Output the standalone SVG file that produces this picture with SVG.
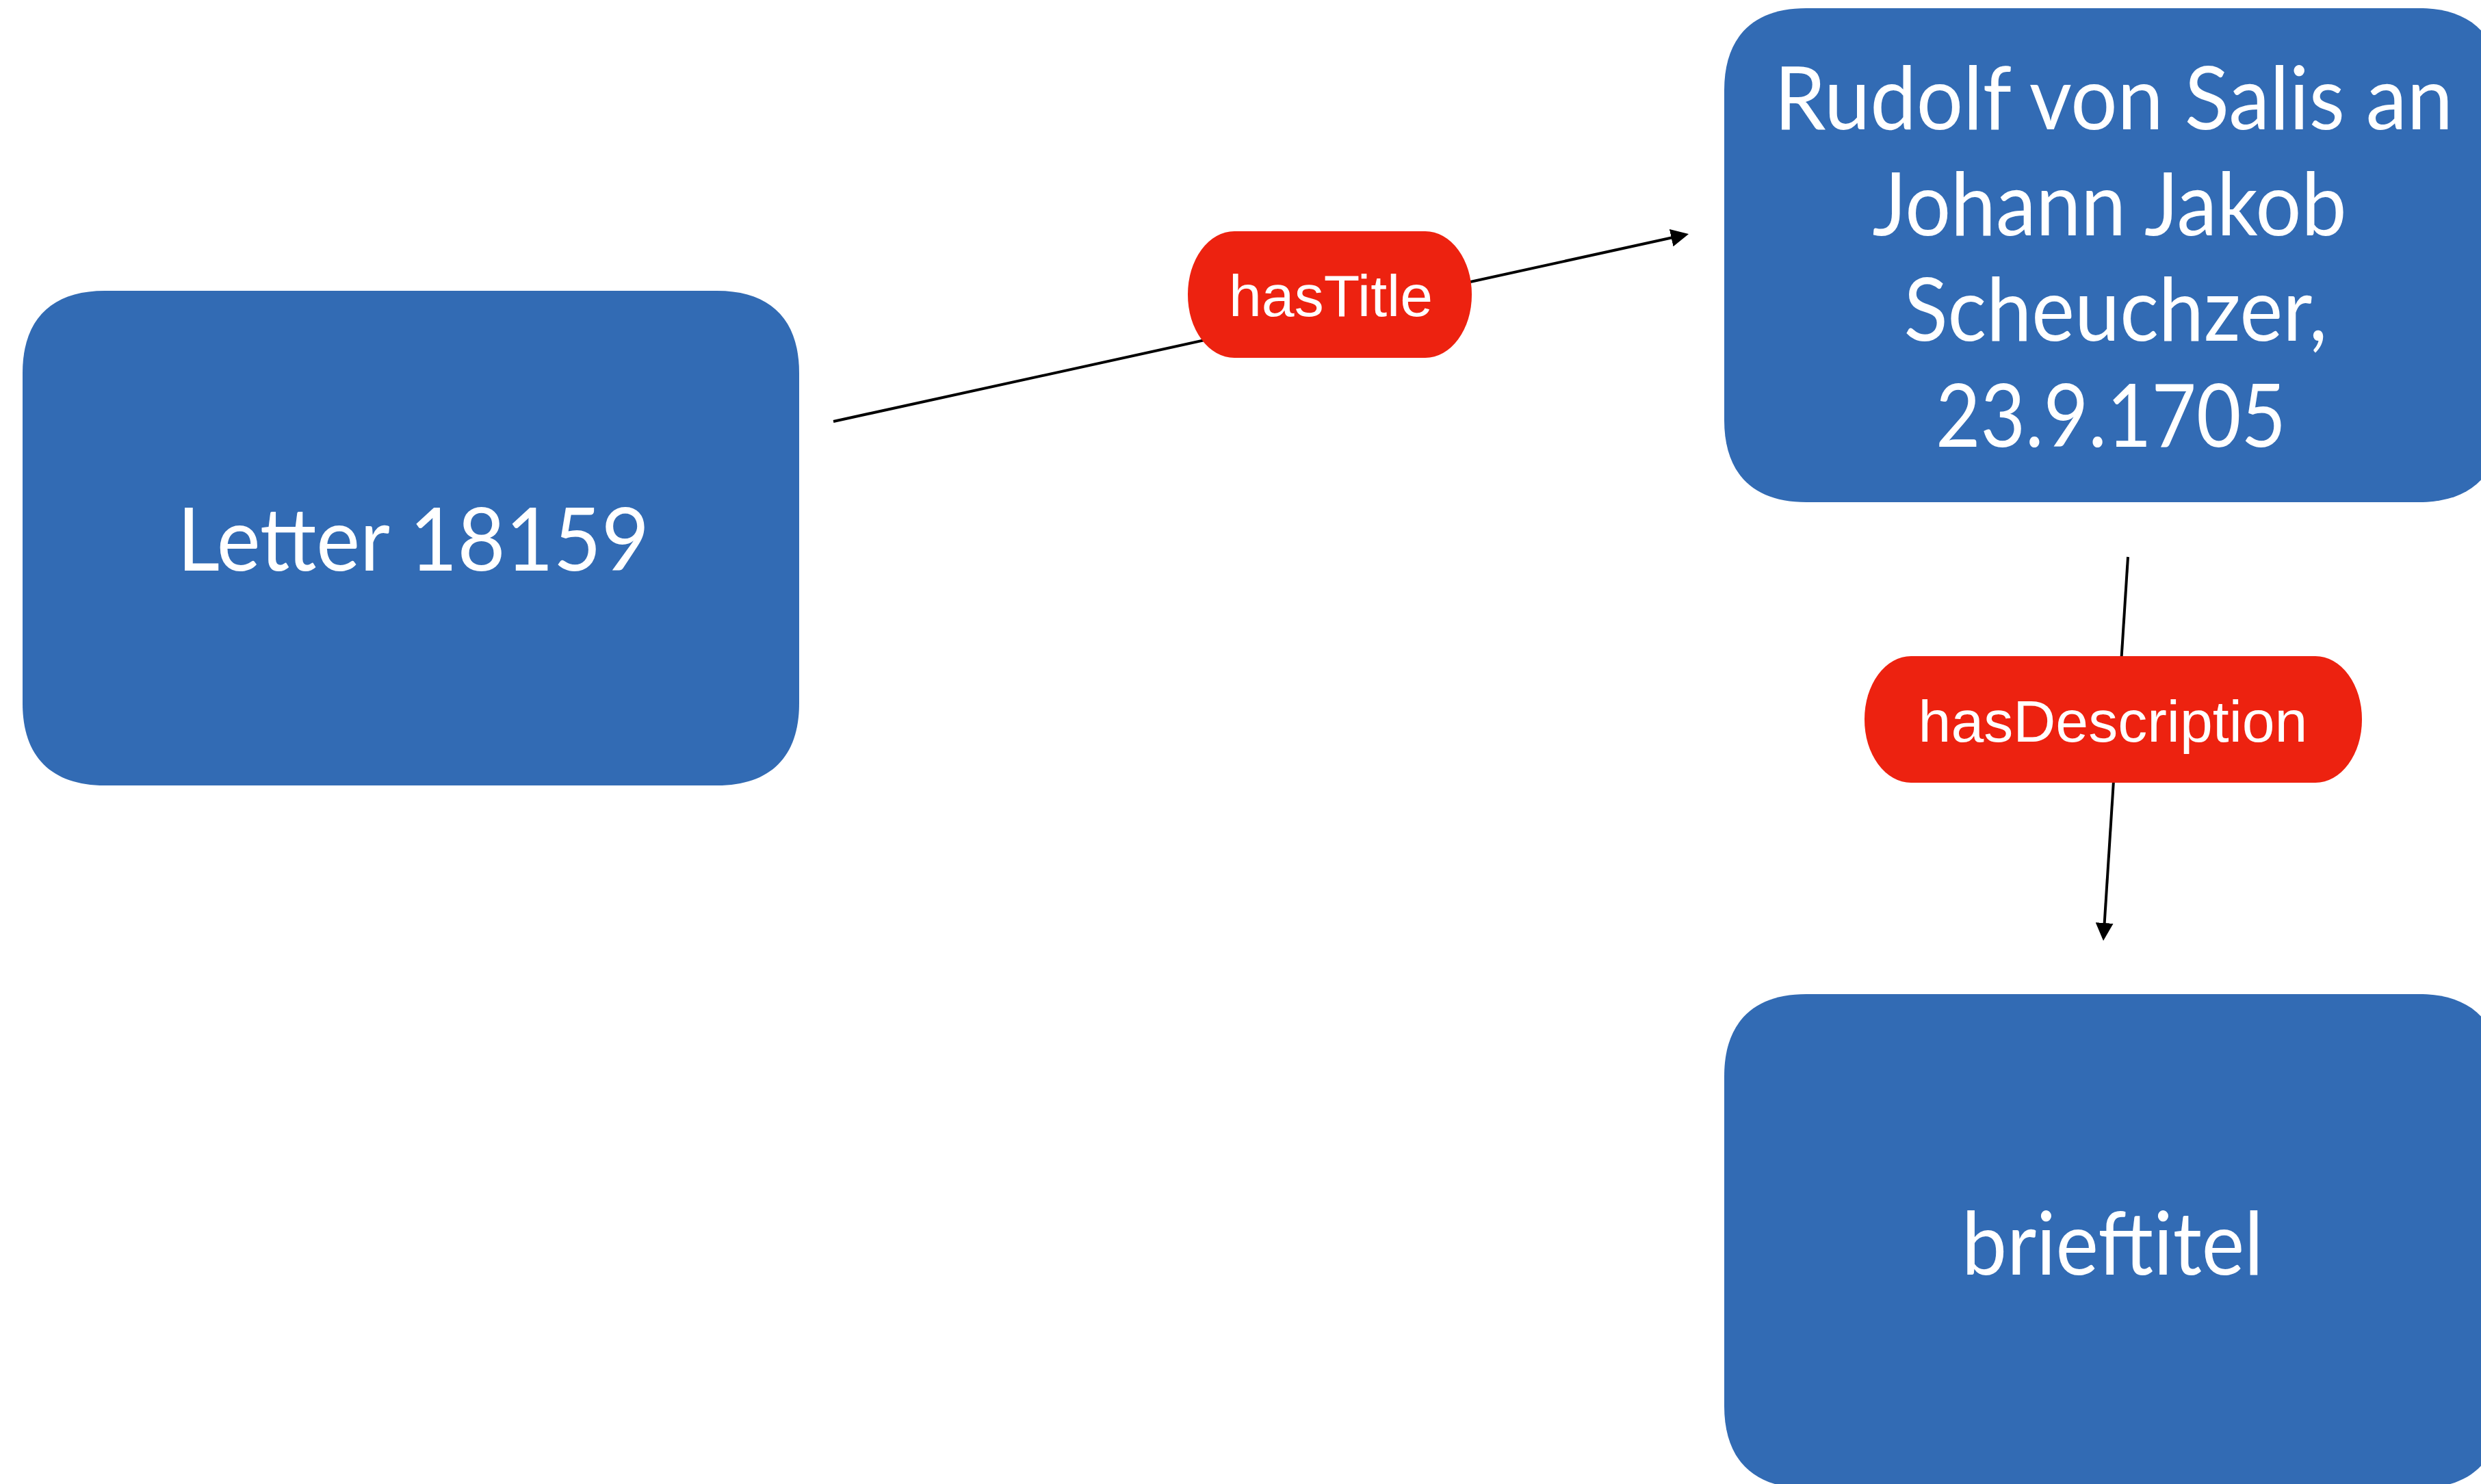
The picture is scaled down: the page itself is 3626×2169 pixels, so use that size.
<svg xmlns="http://www.w3.org/2000/svg" width="3626" height="2169" viewBox="0 0 3626 2169">
<style>
.box{fill:#326BB4}
.pill{fill:#ED2210}
.nt{fill:#fff;font-family:Lato,"Open Sans","Liberation Sans",sans-serif;font-size:128px;text-anchor:middle}
.lt{fill:#fff;font-family:"Liberation Sans",Arial,sans-serif;font-size:86px;text-anchor:middle}
.edge{stroke:#000;stroke-width:4;fill:none;marker-end:url(#arr)}
</style>
<defs>
<marker id="arr" markerUnits="userSpaceOnUse" markerWidth="26" markerHeight="26" refX="6" refY="13" orient="auto">
<path d="M0,0 L26,13 L0,26 z" fill="#000"/>
</marker>
</defs>
<rect width="3626" height="2169" fill="#fff"/>
<g id="connectors">
<line class="edge" x1="1218" y1="616" x2="2448.5" y2="346.3"/>
<line class="edge" x1="3110" y1="814" x2="3075.3" y2="1355"/>
</g>
<g id="node-letter">
<path class="box" d="M153,425 H1048 C1126,425 1168,467 1168,545 V1028 C1168,1106 1126,1148 1048,1148 H153 C75,1148 33,1106 33,1028 V545 C33,467 75,425 153,425 Z"/>
<text class="nt" x="604" y="834" textLength="690" lengthAdjust="spacingAndGlyphs">Letter 18159</text>
</g>
<g id="node-title">
<path class="box" d="M2640,12 H3535 C3613,12 3655,54 3655,132 V614 C3655,692 3613,734 3535,734 H2640 C2562,734 2520,692 2520,614 V132 C2520,54 2562,12 2640,12 Z"/>
<text class="nt" x="3089" y="189" textLength="992" lengthAdjust="spacingAndGlyphs">Rudolf von Salis an</text>
<text class="nt" x="3083" y="344" textLength="693" lengthAdjust="spacingAndGlyphs">Johann Jakob</text>
<text class="nt" x="3092" y="498" textLength="619" lengthAdjust="spacingAndGlyphs">Scheuchzer,</text>
<text class="nt" x="3085" y="653" textLength="512" lengthAdjust="spacingAndGlyphs">23.9.1705</text>
</g>
<g id="node-brieftitel">
<path class="box" d="M2640,1453 H3535 C3613,1453 3655,1495 3655,1573 V2055 C3655,2133 3613,2175 3535,2175 H2640 C2562,2175 2520,2133 2520,2055 V1573 C2520,1495 2562,1453 2640,1453 Z"/>
<text class="nt" x="3087.5" y="1863" textLength="441" lengthAdjust="spacingAndGlyphs">brieftitel</text>
</g>
<g id="label-hasTitle">
<rect class="pill" x="1736" y="338" width="415" height="185" rx="68" ry="92"/>
<text class="lt" x="1945" y="462">hasTitle</text>
</g>
<g id="label-hasDescription">
<rect class="pill" x="2725" y="959" width="727" height="185" rx="68" ry="92"/>
<text class="lt" x="3088" y="1084">hasDescription</text>
</g>
</svg>
